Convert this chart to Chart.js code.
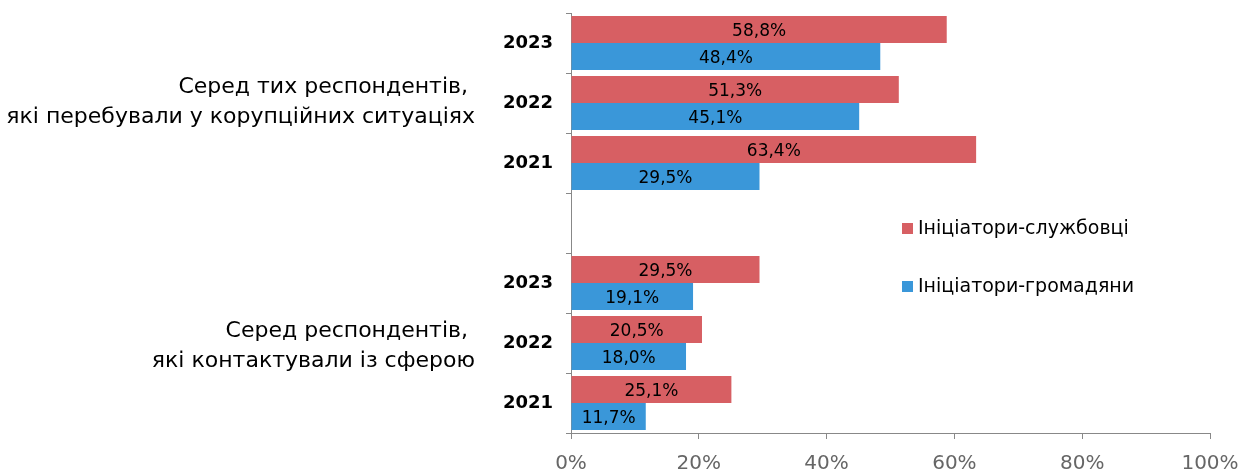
<!DOCTYPE html>
<html lang="uk">
<head>
    <meta charset="UTF-8">
    <meta name="viewport" content="width=device-width, initial-scale=1.0">
    <title>Ініціатори корупційних ситуацій</title>
    <script src="https://cdn.jsdelivr.net/npm/chart.js"></script>
    <style>
        body {
            margin: 0;
            background-color: #ffffff;
        }

        #chart-container {
            width: 1242px;
            height: 471px;
        }
    </style>
</head>
<body>
    <div id="chart-container">
        <canvas id="barChart"></canvas>
    </div>

    <script>
        // data
        const years = ['2023', '2022', '2021', '', '2023', '2022', '2021'];
        const officials = [58.8, 51.3, 63.4, null, 29.5, 20.5, 25.1];
        const citizens = [48.4, 45.1, 29.5, null, 19.1, 18.0, 11.7];
        const seriesNames = ['Ініціатори-службовці', 'Ініціатори-громадяни'];
        const seriesColors = ['#D75F63', '#3A97D9'];
        const groupTitles = [
            ['Серед тих респондентів, ', 'які перебували у корупційних ситуаціях'],
            ['Серед респондентів, ', 'які контактували із сферою']
        ];
        const groupRows = [[0, 2], [4, 6]];

        const FONT = '"DejaVu Sans", Verdana, sans-serif';
        Chart.defaults.font.family = FONT;

        const fmt = v => v.toFixed(1).replace('.', ',') + '%';

        // value labels in the middle of each bar
        const barLabels = {
            id: 'barLabels',
            afterDatasetsDraw(chart) {
                const ctx = chart.ctx;
                ctx.save();
                ctx.font = '17px ' + FONT;
                ctx.fillStyle = '#000';
                ctx.textAlign = 'center';
                ctx.textBaseline = 'middle';
                chart.data.datasets.forEach((ds, i) => {
                    chart.getDatasetMeta(i).data.forEach((bar, j) => {
                        const v = ds.data[j];
                        if (v == null) return;
                        ctx.fillText(fmt(v), (bar.x + bar.base) / 2, bar.y + 2);
                    });
                });
                ctx.restore();
            }
        };

        // group captions on the left and legend inside the plot
        const extras = {
            id: 'extras',
            afterDraw(chart) {
                const ctx = chart.ctx;
                const y = chart.scales.y;
                const area = chart.chartArea;
                ctx.save();

                ctx.font = '22px ' + FONT;
                ctx.fillStyle = '#000';
                ctx.textAlign = 'right';
                ctx.textBaseline = 'middle';
                groupTitles.forEach((lines, g) => {
                    const mid = (y.getPixelForValue(groupRows[g][0]) + y.getPixelForValue(groupRows[g][1])) / 2;
                    const top = mid - (g === 0 ? 16 : 12);
                    lines.forEach((t, k) => ctx.fillText(t, 475, top + k * 30));
                });

                ctx.font = '19px ' + FONT;
                ctx.textAlign = 'left';
                const lx = area.left + 331;
                const ly = [area.top + 215, area.top + 273];
                seriesNames.forEach((name, i) => {
                    ctx.fillStyle = seriesColors[i];
                    ctx.fillRect(lx, ly[i] - 5, 11, 11);
                    ctx.fillStyle = '#000';
                    ctx.fillText(name, lx + 16, ly[i] + 1);
                });
                ctx.restore();
            }
        };

        const ctx = document.getElementById('barChart').getContext('2d');

        const chartData = {
            labels: years,
            datasets: [
                {
                    label: seriesNames[0],
                    data: officials,
                    backgroundColor: seriesColors[0]
                },
                {
                    label: seriesNames[1],
                    data: citizens,
                    backgroundColor: seriesColors[1]
                }
            ]
        };

        const config = {
            type: 'bar',
            data: chartData,
            plugins: [barLabels, extras],
            options: {
                indexAxis: 'y',
                responsive: true,
                maintainAspectRatio: false,
                animation: false,
                categoryPercentage: 0.9,
                barPercentage: 1.0,
                layout: {
                    padding: { top: 13, right: 32, left: 0, bottom: 0 }
                },
                plugins: {
                    legend: { display: false },
                    tooltip: { enabled: false }
                },
                scales: {
                    x: {
                        min: 0,
                        max: 100,
                        afterFit: s => {
                            s.height = 38;
                            s.paddingLeft = 0;
                            s.paddingRight = 0;
                        },
                        ticks: {
                            stepSize: 20,
                            padding: 13,
                            color: '#666',
                            font: { size: 20 },
                            callback: v => v + '%'
                        },
                        grid: {
                            drawOnChartArea: false,
                            tickLength: 6,
                            color: '#888'
                        },
                        border: { color: '#888' }
                    },
                    y: {
                        afterFit: s => {
                            s.width = 571;
                            s.paddingTop = 0;
                            s.paddingBottom = 0;
                        },
                        ticks: {
                            padding: 13,
                            color: '#000',
                            font: { size: 18, weight: 'bold' }
                        },
                        grid: {
                            drawOnChartArea: false,
                            offset: true,
                            tickLength: 5,
                            color: '#888'
                        },
                        border: { color: '#888' }
                    }
                }
            }
        };

        const barChart = new Chart(ctx, config);
    </script>
</body>
</html>
